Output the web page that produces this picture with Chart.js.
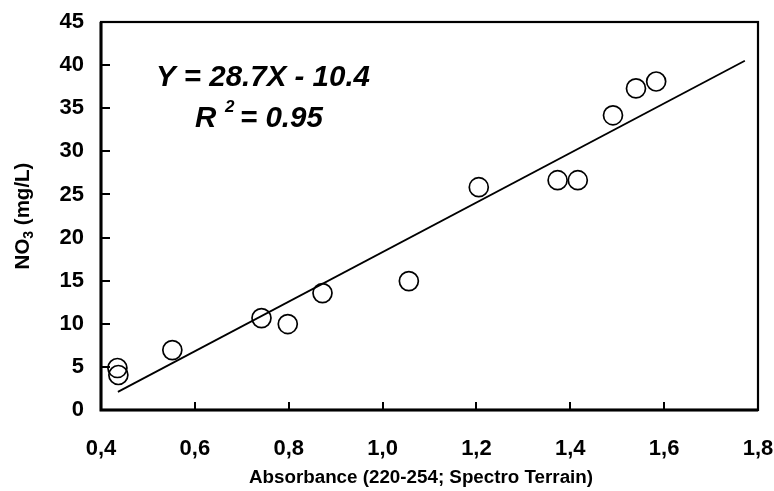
<!DOCTYPE html>
<html>
<head>
<meta charset="utf-8">
<script src="https://cdn.jsdelivr.net/npm/chart.js@4.4.1/dist/chart.umd.min.js"></script>
<style>
  html, body { margin: 0; padding: 0; background: #ffffff; }
  #wrap { width: 774px; height: 491px; }
</style>
</head>
<body>
<div id="wrap"><canvas id="c" width="774" height="491"></canvas></div>
<script>
// ---- data ----
const absorbance = [0.435, 0.437, 0.552, 0.742, 0.798, 0.872, 1.056, 1.205, 1.373, 1.416, 1.491, 1.540, 1.583];
const nitrate    = [4.87, 4.06, 6.95, 10.66, 9.97, 13.56, 14.95, 25.84, 26.65, 26.65, 34.18, 37.3, 38.1];
const fitX = [0.436, 1.772];
const fitY = [2.1, 40.5];
const xTickValues = [0.4, 0.6, 0.8, 1.0, 1.2, 1.4, 1.6, 1.8];
const xTickLabels = ['0,4', '0,6', '0,8', '1,0', '1,2', '1,4', '1,6', '1,8'];
const yTickValues = [0, 5, 10, 15, 20, 25, 30, 35, 40, 45];
const yTickLabels = ['0', '5', '10', '15', '20', '25', '30', '35', '40', '45'];
const xTitle = 'Absorbance (220-254; Spectro Terrain)';
const yTitleMain = 'NO';
const yTitleSub = '3';
const yTitleRest = ' (mg/L)';
const eqLine1 = 'Y = 28.7X - 10.4';
const eqLine2a = 'R';
const eqLine2sup = '2';
const eqLine2b = '= 0.95';

const FONT = "'Liberation Sans', Arial, Helvetica, sans-serif";

const decorPlugin = {
  id: 'decor',
  afterDatasetsDraw(chart) {
    const ctx = chart.ctx;
    const a = chart.chartArea;
    const xs = chart.scales.x, ys = chart.scales.y;
    ctx.save();
    ctx.strokeStyle = '#000';
    // tick marks (inside)
    ctx.lineWidth = 2;
    ctx.beginPath();
    xTickValues.forEach(v => {
      const px = Math.round(xs.getPixelForValue(v));
      ctx.moveTo(px, a.bottom);
      ctx.lineTo(px, a.bottom - 8);
    });
    yTickValues.forEach(v => {
      const py = Math.round(ys.getPixelForValue(v));
      ctx.moveTo(a.left, py);
      ctx.lineTo(a.left + 9, py);
    });
    ctx.stroke();
    // frame
    ctx.lineWidth = 2.2;
    ctx.strokeRect(a.left, a.top, a.right - a.left, a.bottom - a.top);
    ctx.lineWidth = 3;
    ctx.beginPath();
    ctx.moveTo(a.left, a.top);
    ctx.lineTo(a.left, a.bottom);
    ctx.lineTo(a.right, a.bottom);
    ctx.stroke();

    // x title
    ctx.fillStyle = '#000';
    ctx.font = "bold 18.8px " + FONT;
    ctx.textAlign = 'center';
    ctx.textBaseline = 'alphabetic';
    ctx.fillText(xTitle, 421, 483);

    // y title with subscript (rotated)
    ctx.save();
    ctx.translate(29, 216);
    ctx.rotate(-Math.PI / 2);
    const fMain = "bold 20.5px " + FONT;
    const fSub = "bold 14px " + FONT;
    ctx.font = fMain;
    const w1 = ctx.measureText(yTitleMain).width;
    const w3 = ctx.measureText(yTitleRest).width;
    ctx.font = fSub;
    const w2 = ctx.measureText(yTitleSub).width;
    const total = w1 + w2 + w3;
    let x0 = -total / 2;
    ctx.textAlign = 'left';
    ctx.font = fMain;
    ctx.fillText(yTitleMain, x0, 0);
    ctx.font = fSub;
    ctx.fillText(yTitleSub, x0 + w1, 4);
    ctx.font = fMain;
    ctx.fillText(yTitleRest, x0 + w1 + w2, 0);
    ctx.restore();

    // regression equation
    ctx.font = "italic bold 29.5px " + FONT;
    ctx.textAlign = 'left';
    ctx.fillText(eqLine1, 156, 86);
    ctx.fillText(eqLine2a, 195, 127);
    ctx.font = "italic bold 17px " + FONT;
    ctx.fillText(eqLine2sup, 225, 112);
    ctx.font = "italic bold 29.5px " + FONT;
    ctx.fillText(eqLine2b, 240, 127);
    ctx.restore();
  }
};

new Chart(document.getElementById('c'), {
  type: 'scatter',
  data: {
    datasets: [
      {
        label: 'Samples',
        data: absorbance.map((x, i) => ({ x: x, y: nitrate[i] })),
        pointRadius: 9.5,
        pointHoverRadius: 9.5,
        pointBackgroundColor: 'rgba(255,255,255,0)',
        pointBorderColor: '#000',
        pointBorderWidth: 1.7,
        order: 1
      },
      {
        label: 'Fit',
        type: 'line',
        data: fitX.map((x, i) => ({ x: x, y: fitY[i] })),
        borderColor: '#000',
        borderWidth: 1.8,
        pointRadius: 0,
        fill: false,
        order: 2
      }
    ]
  },
  options: {
    responsive: false,
    animation: false,
    devicePixelRatio: 1,
    layout: { padding: { left: 0, right: 16, top: 22, bottom: 0 } },
    plugins: {
      legend: { display: false },
      tooltip: { enabled: false },
      title: { display: false }
    },
    scales: {
      x: {
        type: 'linear',
        min: 0.4,
        max: 1.8,
        grid: { display: false, drawTicks: false },
        border: { display: false },
        afterBuildTicks: s => { s.ticks = xTickValues.map(v => ({ value: v })); },
        afterFit: s => { s.height = 81; s.paddingLeft = 0; s.paddingRight = 0; },
        ticks: {
          color: '#000',
          padding: 26,
          maxRotation: 0,
          autoSkip: false,
          font: { family: FONT, size: 22, weight: 'bold' },
          callback: (v, i) => xTickLabels[i]
        }
      },
      y: {
        type: 'linear',
        min: 0,
        max: 45,
        grid: { display: false, drawTicks: false },
        border: { display: false },
        afterBuildTicks: s => { s.ticks = yTickValues.map(v => ({ value: v })); },
        afterFit: s => { s.width = 101; s.paddingTop = 0; s.paddingBottom = 0; },
        ticks: {
          color: '#000',
          padding: 17,
          autoSkip: false,
          font: { family: FONT, size: 22, weight: 'bold' },
          callback: (v, i) => yTickLabels[i]
        }
      }
    }
  },
  plugins: [decorPlugin]
});
</script>
</body>
</html>
